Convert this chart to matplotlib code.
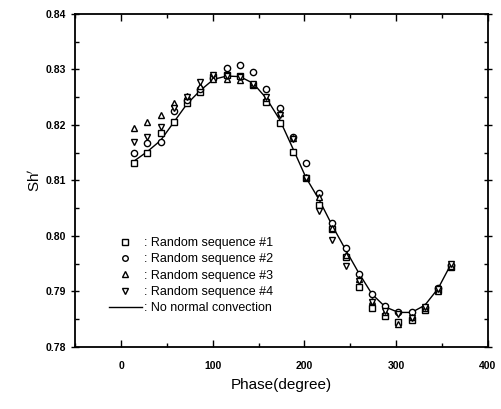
import matplotlib.pyplot as plt
from matplotlib.lines import Line2D
from matplotlib.ticker import MultipleLocator

plt.rcParams['font.family'] = ['Liberation Sans', 'DejaVu Sans']

phase = [14.4, 28.8, 43.2, 57.6, 72.0, 86.4, 100.8, 115.2, 129.6, 144.0, 158.4, 172.8,
         187.2, 201.6, 216.0, 230.4, 244.8, 259.2, 273.6, 288.0, 302.4, 316.8, 331.2, 345.6, 360.0]

seq1 = [0.8132, 0.8150, 0.8185, 0.8205, 0.8240, 0.8260, 0.8287, 0.8290, 0.8288, 0.8272, 0.8242, 0.8203,
        0.8151, 0.8104, 0.8056, 0.8012, 0.7962, 0.7908, 0.7870, 0.7856, 0.7845, 0.7848, 0.7866, 0.7902, 0.7944]
seq2 = [0.8150, 0.8168, 0.8170, 0.8225, 0.8245, 0.8265, 0.8285, 0.8303, 0.8308, 0.8296, 0.8265, 0.8230,
        0.8178, 0.8132, 0.8077, 0.8023, 0.7978, 0.7932, 0.7895, 0.7874, 0.7862, 0.7862, 0.7872, 0.7906, 0.7948]
seq3 = [0.8195, 0.8205, 0.8218, 0.8240, 0.8252, 0.8270, 0.8283, 0.8282, 0.8281, 0.8273, 0.8248, 0.8222,
        0.8176, 0.8106, 0.8070, 0.8015, 0.7965, 0.7922, 0.7882, 0.7862, 0.7842, 0.7853, 0.7870, 0.7900, 0.7945]
seq4 = [0.8170, 0.8178, 0.8196, 0.8230, 0.8250, 0.8277, 0.8290, 0.8288, 0.8286, 0.8274, 0.8250, 0.8218,
        0.8174, 0.8104, 0.8045, 0.7993, 0.7946, 0.7918, 0.7880, 0.7864, 0.7860, 0.7852, 0.7872, 0.7905, 0.7950]
no_conv = [0.8135, 0.8152, 0.8172, 0.8205, 0.8238, 0.8262, 0.8282, 0.8288, 0.8287, 0.8275, 0.8248, 0.8210,
           0.8158, 0.8105, 0.8065, 0.8018, 0.7975, 0.7933, 0.7895, 0.7872, 0.7862, 0.7862, 0.7875, 0.7905, 0.7950]

labels = [': Random sequence #1', ': Random sequence #2', ': Random sequence #3',
          ': Random sequence #4', ': No normal convection']

fig = plt.figure(figsize=(5.01, 4.09), dpi=100)
ax = fig.add_axes([0.150, 0.152, 0.824, 0.814])

ax.plot(phase, no_conv, color='black', lw=1.0)
mk = dict(ls='none', mfc='white', mec='black', mew=1.0, ms=4.5)
ax.plot(phase, seq1, marker='s', **mk)
ax.plot(phase, seq2, marker='o', **mk)
ax.plot(phase, seq3, marker='^', **mk)
ax.plot(phase, seq4, marker='v', **mk)

ax.set_xlim(-50, 400)
ax.set_ylim(0.78, 0.84)
ax.xaxis.set_minor_locator(MultipleLocator(50))
ax.yaxis.set_minor_locator(MultipleLocator(0.005))
ax.set_xticks([0, 100, 200, 300, 400])
ax.set_yticks([0.78, 0.79, 0.80, 0.81, 0.82, 0.83, 0.84])
ax.set_yticklabels(['0.78', '0.79', '0.80', '0.81', '0.82', '0.83', '0.84'])
ax.tick_params(which='both', top=True, right=True, labelsize=7.5, width=1.0)
ax.tick_params(axis='x', which='major', direction='in', length=5, pad=10)
ax.tick_params(axis='x', which='minor', direction='in', length=3)
ax.tick_params(axis='y', which='major', direction='inout', length=6)
ax.tick_params(axis='y', which='minor', direction='in', length=3)
for t in ax.get_xticklabels() + ax.get_yticklabels():
    t.set_fontweight('bold')
for s in ax.spines.values():
    s.set_linewidth(1.3)

ax.set_xlabel('Phase(degree)', fontsize=11, labelpad=5)
ax.set_ylabel("Sh$^{\\prime}$", fontsize=11, labelpad=2)

handles = [Line2D([], [], marker=m, **dict(mk, ms=4)) for m in ['s', 'o', '^', 'v']]
handles.append(Line2D([], [], color='black', lw=1.0))
ax.legend(handles, labels, loc='upper left', bbox_to_anchor=(0.07, 0.345), frameon=False,
          fontsize=9, handlelength=2.6, handletextpad=0.2, labelspacing=0.35, borderaxespad=0)

fig.savefig('out.png', dpi=100)
